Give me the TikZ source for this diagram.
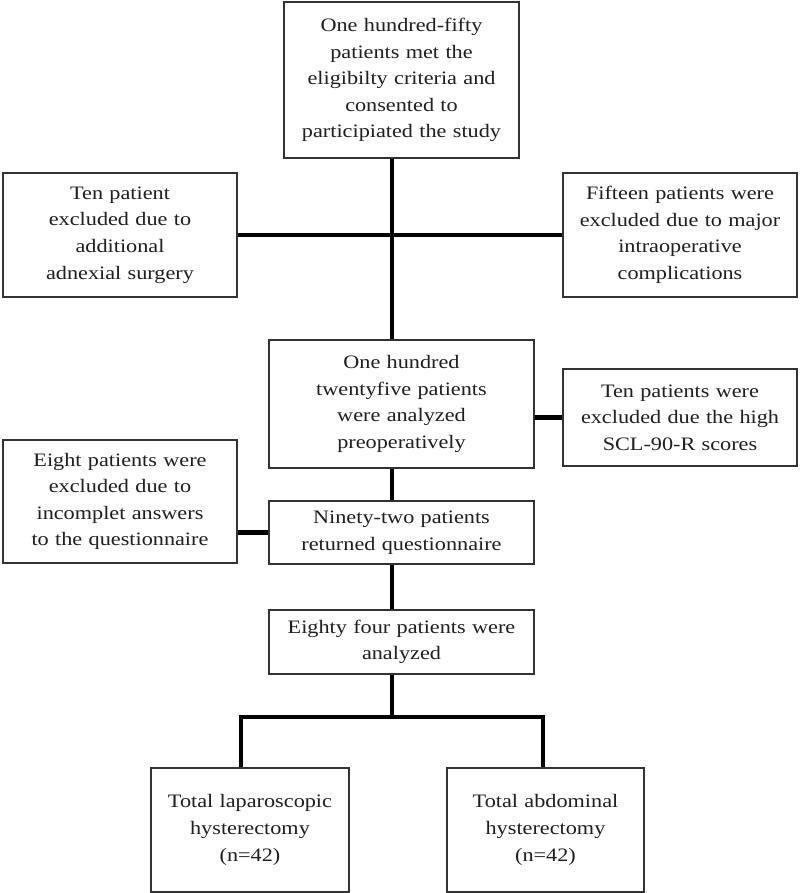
\documentclass[tikz,border=0pt]{standalone}
\usepackage{fontspec}
\setmainfont[FakeStretch=1.17]{Liberation Serif}
\begin{document}
\begin{tikzpicture}[x=1pt,y=-1pt,
  bx/.style={draw=black!80, line width=1.3pt, fill=white, inner sep=0pt, align=center,
    text=black!88, font=\fontsize{19}{26.6}\selectfont},
  link/.style={line width=4.6pt, line join=miter, black}]
\fill[white] (0,0) rectangle (800,893);
\useasboundingbox (0,0) rectangle (800,893);
\node[bx, text width=235pt, minimum height=156pt] (top) at (401.5,80)
  {One hundred-fifty\\patients met the\\eligibilty criteria and\\consented to\\participiated the study};
\node[bx, text width=234pt, minimum height=124pt] (l1) at (120,235)
  {Ten patient\\excluded due to\\additional\\adnexial surgery};
\node[bx, text width=234pt, minimum height=124pt] (r1) at (680,235)
  {Fifteen patients were\\excluded due to major\\intraoperative\\complications};
\node[bx, text width=265pt, minimum height=128pt] (mid) at (401.5,404)
  {One hundred\\twentyfive patients\\were analyzed\\preoperatively};
\node[bx, text width=234pt, minimum height=97pt] (r2) at (680,417.5)
  {Ten patients were\\excluded due the high\\SCL-90-R scores};
\node[bx, text width=234pt, minimum height=123pt] (l3) at (120,501.5)
  {Eight patients were\\excluded due to\\incomplet answers\\to the questionnaire};
\node[bx, text width=265pt, minimum height=63pt] (ninety) at (401.5,532.5)
  {Ninety-two patients\\returned questionnaire};
\node[bx, text width=265pt, minimum height=64pt] (eighty) at (401.5,642)
  {Eighty four patients were\\analyzed};
\node[bx, text width=198pt, minimum height=124pt] (b1) at (250,830)
  {Total laparoscopic\\hysterectomy\\(n=42)};
\node[bx, text width=197pt, minimum height=124pt] (b2) at (545.5,830)
  {Total abdominal\\hysterectomy\\(n=42)};
\coordinate (tk) at (392,0);
\coordinate (bj) at (392,717);
\coordinate (bl) at (241,717);
\coordinate (bR) at (543,717);
\draw[link] (top.south -| tk) -- (mid.north -| tk);
\draw[link] (l1.east) -- (r1.west);
\draw[link] (r2.west -| mid.east) -- (r2.west);
\draw[link] (mid.south -| tk) -- (ninety.north -| tk);
\draw[link] (ninety.west -| l3.east) -- (ninety.west);
\draw[link] (ninety.south -| tk) -- (eighty.north -| tk);
\draw[link] (eighty.south -| tk) -- (bj);
\draw[link] (b1.north -| bl) -- (bl) -- (bR) -- (b2.north -| bR);
\end{tikzpicture}
\end{document}
